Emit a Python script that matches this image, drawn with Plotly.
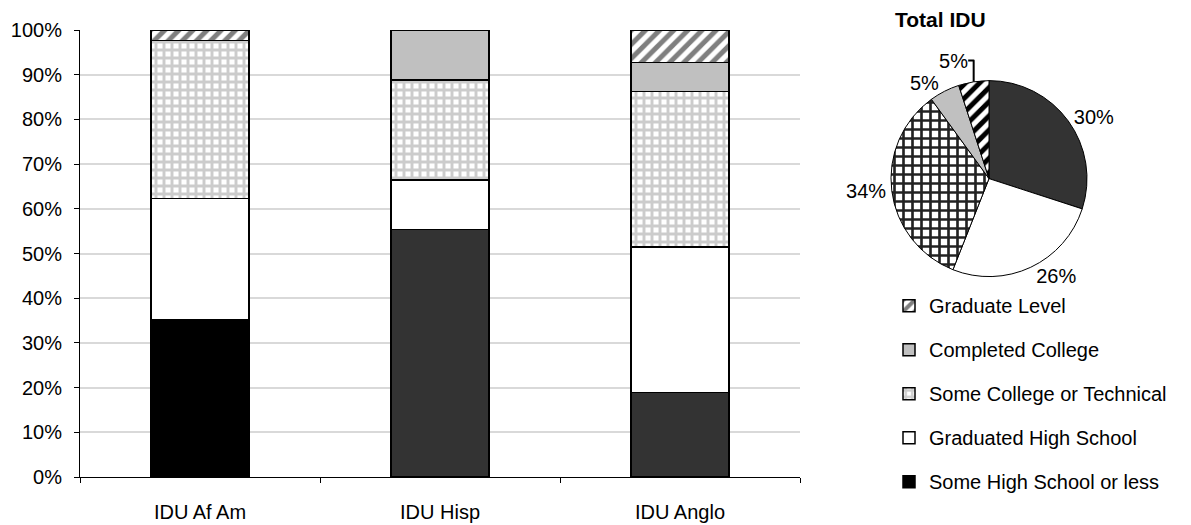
import plotly.graph_objects as go

groups = ["IDU Af Am", "IDU Hisp", "IDU Anglo"]
series_names = ["Some High School or less", "Graduated High School",
                "Some College or Technical", "Completed College", "Graduate Level"]
some_hs = [35.2, 55.4, 18.9]
grad_hs = [27.1, 11.0, 32.6]
some_college = [35.3, 22.4, 34.7]
completed_college = [0.0, 11.2, 6.5]
graduate_level = [2.4, 0.0, 7.3]

pie_labels = series_names
pie_values = [30, 26, 34, 5, 5]

O = 8  # browser body margin
W, H = 1191 - O, 525 - O
ML, MR, MT = 80 - O, 10, 30 - O
PH = 446.7
MB = H - MT - PH
PW = W - ML - MR

def px_x(x):
    return (x - O - ML) / PW

def px_y(y):
    return 1 - (y - O - MT) / PH

FONT = "Liberation Sans, Arial, sans-serif"
FS = 20
line = dict(color="black", width=1.5)

fig = go.Figure()
fig.add_trace(go.Bar(name=series_names[0], x=groups, y=some_hs,
                     marker=dict(color=["#000000", "#333333", "#333333"], line=line),
                     legendgroup="a", legendrank=5))
fig.add_trace(go.Bar(name=series_names[1], x=groups, y=grad_hs,
                     marker=dict(color="white", line=line), legendgroup="b", legendrank=4))
fig.add_trace(go.Bar(name=series_names[2], x=groups, y=some_college,
                     marker=dict(color="white", line=line,
                                 pattern=dict(shape="+", fgcolor="#999999", bgcolor="white",
                                              size=8, solidity=0.6)),
                     legendgroup="c", legendrank=3))
fig.add_trace(go.Bar(name=series_names[3], x=groups, y=completed_college,
                     marker=dict(color="#c0c0c0", line=line), legendgroup="d", legendrank=2))
fig.add_trace(go.Bar(name=series_names[4], x=groups, y=graduate_level,
                     marker=dict(color="white", line=line,
                                 pattern=dict(shape="/", fgcolor="black", bgcolor="white",
                                              size=10, solidity=0.5)),
                     legendgroup="e", legendrank=1))

fig.add_trace(go.Pie(
    labels=pie_labels, values=pie_values, sort=False, direction="clockwise",
    rotation=0, showlegend=False,
    textinfo="percent", texttemplate="%{percent:.0%}", textposition="outside",
    textfont=dict(family=FONT, size=FS, color="black"),
    marker=dict(colors=["#333333", "white", "white", "#c0c0c0", "white"],
                line=dict(color="black", width=1),
                pattern=dict(shape=["", "", "+", "", "/"],
                             fgcolor=["black", "black", "#222222", "black", "black"],
                             bgcolor=["#333333", "white", "white", "#c0c0c0", "white"],
                             size=[8, 8, 9, 8, 10], solidity=[0.3, 0.3, 0.5, 0.3, 0.5])),
    domain=dict(x=[px_x(891), px_x(1087)], y=[px_y(277), px_y(80)]),
    hoverinfo="label+percent",
))

fig.update_layout(
    width=W, height=H,
    margin=dict(l=ML, r=MR, t=MT, b=MB, autoexpand=False),
    barmode="stack", bargap=0.59,
    plot_bgcolor="white", paper_bgcolor="white",
    font=dict(family=FONT, size=FS, color="black"),
    xaxis=dict(domain=[0, 720 / PW], showline=True, linecolor="black", linewidth=1,
               ticks="outside", tickson="boundaries", ticklen=5, tickcolor="black",
               tickfont=dict(size=FS), showgrid=False, ticklabelstandoff=17,
               automargin=False),
    yaxis=dict(range=[0, 100], dtick=10, ticksuffix="%", showline=True,
               linecolor="black", linewidth=1, ticks="outside", ticklen=5,
               tickcolor="black", showgrid=True, gridcolor="#d9d9d9", gridwidth=1.5,
               tickfont=dict(size=FS), zeroline=False, ticklabelstandoff=8,
               automargin=False),
    legend=dict(x=px_x(889), y=px_y(286), xanchor="left", yanchor="top",
                traceorder="grouped", tracegroupgap=15,
                font=dict(size=FS), bgcolor="rgba(0,0,0,0)"),
    annotations=[dict(text="<b>Total IDU</b>", x=px_x(940), y=px_y(20),
                      xref="paper", yref="paper", showarrow=False,
                      font=dict(size=21, family=FONT), xanchor="center", yanchor="middle")],
)

fig.write_html("out.html")
